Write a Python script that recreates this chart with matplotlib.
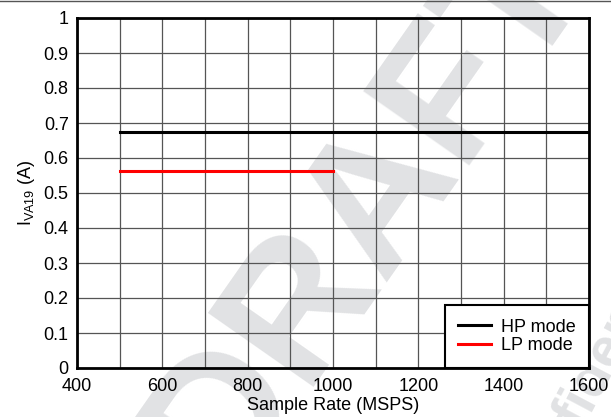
import matplotlib
matplotlib.use("Agg")
import matplotlib.pyplot as plt

# ========== DATA ==========
hp_x = [500, 1600]
hp_y = [0.675, 0.675]
lp_x = [500, 1000]
lp_y = [0.562, 0.562]
x_ticks = [400, 600, 800, 1000, 1200, 1400, 1600]
y_ticks = [0, 0.1, 0.2, 0.3, 0.4, 0.5, 0.6, 0.7, 0.8, 0.9, 1]
y_tick_labels = ["0", "0.1", "0.2", "0.3", "0.4", "0.5", "0.6", "0.7", "0.8", "0.9", "1"]

plt.rcParams["font.family"] = ["Liberation Sans", "DejaVu Sans"]

fig = plt.figure(figsize=(6.11, 4.17), dpi=100)
ax = fig.add_axes([77 / 611, 1 - 368 / 417, 512 / 611, 350 / 417])
ax.set_zorder(1)
ax.set_facecolor("none")

# faint watermark behind the axes
fig.text(0.6, 0.5, "DRAFT", fontsize=135, fontweight="bold", color="#e1e2e4",
         rotation=55, ha="center", va="center", zorder=0)
fig.text(0.97, 0.1, "Confidential", fontsize=40, fontweight="bold", color="#e1e2e4",
         rotation=62, ha="center", va="center", zorder=0)

ax.plot(hp_x, hp_y, color="black", lw=2.2, label="HP mode", zorder=3)
ax.plot(lp_x, lp_y, color="red", lw=2.2, label="LP mode", zorder=3)

ax.set_xlim(400, 1600)
ax.set_ylim(0, 1)
ax.set_xticks(x_ticks)
ax.set_xticks(range(400, 1601, 100), minor=True)
ax.set_yticks(y_ticks)
ax.set_yticklabels(y_tick_labels)
ax.grid(True, which="both", color="#555555", lw=0.9)
ax.tick_params(which="both", length=0, labelsize=13)
ax.tick_params(axis="y", pad=6)
ax.tick_params(axis="x", pad=7)
for s in ax.spines.values():
    s.set_linewidth(2)

ax.set_xlabel("Sample Rate (MSPS)", fontsize=13, labelpad=2)
ax.set_ylabel(r"I$_{\mathregular{VA19}}$ (A)", fontsize=13, labelpad=5)

leg = ax.legend(loc="lower right", fontsize=13, frameon=True, fancybox=False,
                edgecolor="black", framealpha=1, borderaxespad=0,
                handlelength=1.8, handletextpad=0.55, borderpad=0.75, labelspacing=0.1)
leg.get_frame().set_linewidth(1.5)

fig.add_artist(plt.Line2D([0, 1], [0.998, 0.998], color="#555555", lw=1))

fig.savefig("out.png", dpi=100)
